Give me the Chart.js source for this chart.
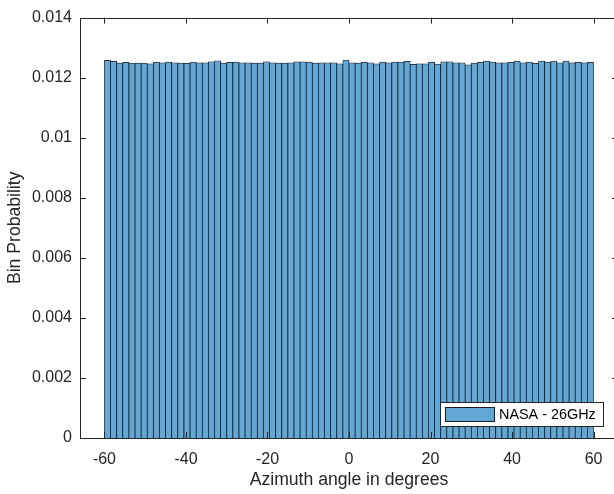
<!DOCTYPE html>
<html>
<head>
<meta charset="utf-8">
<script src="https://cdn.jsdelivr.net/npm/chart.js@4/dist/chart.umd.min.js"></script>
<style>
  html, body { margin: 0; padding: 0; background: #fff; overflow: hidden; }
  #wrap { position: relative; width: 624px; height: 494px; }
  #c { display: block; }
</style>
</head>
<body>
<div id="wrap"><canvas id="c" width="624" height="494"></canvas></div>
<script>
// Histogram of azimuth angles: 80 bins of 1.5 degrees from -60 to 60
const binEdgeStart = -60;
const binWidth = 1.5;
const binProbability = [
  0.012573, 0.012540, 0.012485, 0.012507, 0.012485, 0.012485, 0.012485, 0.012463,
  0.012518, 0.012496, 0.012518, 0.012496, 0.012485, 0.012474, 0.012518, 0.012496,
  0.012496, 0.012529, 0.012562, 0.012485, 0.012507, 0.012518, 0.012496, 0.012496,
  0.012485, 0.012485, 0.012529, 0.012496, 0.012485, 0.012485, 0.012496, 0.012529,
  0.012529, 0.012518, 0.012485, 0.012496, 0.012496, 0.012496, 0.012463, 0.012584,
  0.012496, 0.012485, 0.012507, 0.012496, 0.012463, 0.012518, 0.012496, 0.012518,
  0.012518, 0.012540, 0.012441, 0.012463, 0.012463, 0.012507, 0.012452, 0.012529,
  0.012529, 0.012496, 0.012496, 0.012430, 0.012485, 0.012507, 0.012551, 0.012518,
  0.012496, 0.012496, 0.012507, 0.012551, 0.012496, 0.012518, 0.012474, 0.012551,
  0.012518, 0.012551, 0.012496, 0.012551, 0.012496, 0.012507, 0.012496, 0.012507
];
const binCenters = binProbability.map((_, i) => binEdgeStart + binWidth * (i + 0.5));
const xTickValues = [-60, -40, -20, 0, 20, 40, 60];
const yTickValues = [0, 0.002, 0.004, 0.006, 0.008, 0.01, 0.012, 0.014];
const seriesLabel = 'NASA - 26GHz';

const axisColor = '#262626';
const tickFont = { family: '"Liberation Sans", Arial, Helvetica, sans-serif', size: 16 };
const titleFont = { family: '"Liberation Sans", Arial, Helvetica, sans-serif', size: 17.6 };

// Box frame with inward tick marks on all four sides, plus the legend
const frameAndLegend = {
  id: 'frameAndLegend',
  afterDraw(chart) {
    const { ctx, chartArea: a, scales } = chart;
    const tl = 6;
    ctx.save();
    ctx.strokeStyle = axisColor;
    ctx.lineWidth = 1;
    ctx.beginPath();
    ctx.rect(Math.round(a.left) + 0.5, Math.round(a.top) + 0.5,
             Math.round(a.right - a.left), Math.round(a.bottom - a.top));
    xTickValues.forEach(v => {
      const px = Math.round(scales.x.getPixelForValue(v)) + 0.5;
      ctx.moveTo(px, a.bottom); ctx.lineTo(px, a.bottom - tl);
      ctx.moveTo(px, a.top); ctx.lineTo(px, a.top + tl);
    });
    yTickValues.forEach(v => {
      const py = Math.round(scales.y.getPixelForValue(v)) + 0.5;
      ctx.moveTo(a.left, py); ctx.lineTo(a.left + tl, py);
      ctx.moveTo(a.right, py); ctx.lineTo(a.right - tl, py);
    });
    ctx.stroke();

    // legend, lower right inside the axes
    const ds = chart.data.datasets[0];
    const bx = 440.5, by = 402.5, bw = 163, bh = 24;
    ctx.fillStyle = '#fff';
    ctx.fillRect(bx, by, bw, bh);
    ctx.strokeStyle = axisColor;
    ctx.strokeRect(bx, by, bw, bh);
    ctx.fillStyle = ds.backgroundColor;
    ctx.fillRect(445, 407, 50, 15);
    ctx.strokeStyle = '#1a1a1a';
    ctx.strokeRect(445.5, 407.5, 49, 14);
    ctx.fillStyle = '#000';
    ctx.font = '14.4px "Liberation Sans", Arial, sans-serif';
    ctx.textBaseline = 'middle';
    ctx.textAlign = 'left';
    ctx.fillText(ds.label, 499, 415);
    ctx.restore();
  }
};

new Chart(document.getElementById('c'), {
  type: 'bar',
  data: {
    datasets: [{
      label: seriesLabel,
      data: binCenters.map((x, i) => ({ x, y: binProbability[i] })),
      backgroundColor: 'rgb(99,167,214)',
      borderColor: '#141414',
      borderWidth: 0.75,
      barPercentage: 1.0,
      categoryPercentage: 1.0
    }]
  },
  options: {
    responsive: false,
    devicePixelRatio: 1,
    animation: false,
    layout: { padding: { left: 0, top: 15, right: 6, bottom: 0 } },
    plugins: { legend: { display: false }, tooltip: { enabled: false } },
    scales: {
      x: {
        type: 'linear',
        min: -66,
        max: 66,
        offset: false,
        grid: { display: false, drawTicks: false, offset: false },
        border: { display: false },
        afterBuildTicks: s => { s.ticks = xTickValues.map(v => ({ value: v })); },
        afterFit: s => { s.height = 56; },
        ticks: {
          color: axisColor, font: tickFont, padding: 12, maxRotation: 0,
          callback: v => String(v)
        },
        title: {
          display: true, text: 'Azimuth angle in degrees', color: axisColor,
          font: titleFont, padding: { top: 0, bottom: 3 }
        }
      },
      y: {
        min: 0,
        max: 0.014,
        grid: { display: false, drawTicks: false },
        border: { display: false },
        afterBuildTicks: s => { s.ticks = yTickValues.map(v => ({ value: v })); },
        afterFit: s => { s.width = 80; },
        ticks: {
          color: axisColor, font: tickFont, padding: 8,
          callback: v => (v === 0 ? '0' : String(+v.toFixed(3)))
        },
        title: {
          display: true, text: 'Bin Probability', color: axisColor,
          font: titleFont, padding: { top: 5, bottom: 0 }
        }
      }
    }
  },
  plugins: [frameAndLegend]
});
</script>
</body>
</html>
